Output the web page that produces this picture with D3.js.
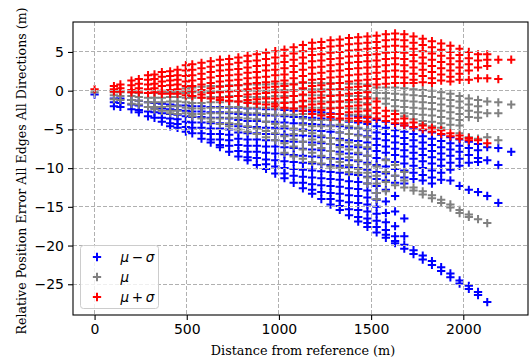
<!DOCTYPE html>
<html>
<head>
<meta charset="utf-8">
<script src="https://cdn.jsdelivr.net/npm/d3@7"></script>
<style>
body { margin: 0; background: #fff; }
svg { display: block; }
</style>
</head>
<body>
<svg id="chart" width="529" height="360"></svg>
<script>
// Distances (m) at which the errors were sampled
const distances = [0, 105, 140, 200, 240, 290, 325, 365, 410, 450,
	495, 530, 580, 630, 680, 730, 780, 830, 880, 930,
	980, 1030, 1080, 1130, 1180, 1230, 1280, 1330, 1380, 1430,
	1480, 1530, 1580, 1630, 1680, 1730, 1780, 1830, 1880, 1930,
	1980, 2030, 2080, 2130, 2190, 2260];

// mu - sigma (one list of errors per distance)
const lowerVals = [
	[-0.5],
	[-1.0, -1.5, -2.0],
	[-1.0, -1.6, -2.1],
	[-1.2, -1.8, -2.4],
	[-1.3, -1.9, -2.5, -2.8],
	[-1.5, -2.1, -2.7, -3.3],
	[-1.6, -2.2, -2.8, -3.5],
	[-1.7, -2.3, -2.9, -3.5, -4.0],
	[-1.8, -2.4, -3.0, -3.6, -4.2, -4.6],
	[-1.9, -2.5, -3.1, -3.7, -4.3, -4.8],
	[-1.9, -2.6, -3.3, -4.0, -4.7, -5.3],
	[-2.0, -2.7, -3.4, -4.1, -4.8, -5.5],
	[-2.0, -2.7, -3.4, -4.1, -4.8, -5.5, -6.2],
	[-2.1, -2.8, -3.5, -4.2, -4.9, -5.6, -6.3, -6.7],
	[-2.1, -2.8, -3.5, -4.2, -4.9, -5.6, -6.3, -7.0, -7.3],
	[-2.2, -2.9, -3.6, -4.3, -5.0, -5.7, -6.4, -7.1, -7.9],
	[-2.2, -3.0, -3.8, -4.6, -5.4, -6.2, -7.0, -7.8, -8.5],
	[-2.3, -3.1, -3.9, -4.7, -5.5, -6.3, -7.1, -7.9, -8.6, -9.0],
	[-2.3, -3.1, -3.9, -4.7, -5.5, -6.3, -7.1, -7.9, -8.7, -9.6],
	[-2.4, -3.2, -4.0, -4.8, -5.6, -6.4, -7.2, -8.0, -8.9, -9.5, -10.1],
	[-2.4, -3.2, -4.0, -4.8, -5.6, -6.4, -7.2, -8.1, -9.0, -9.8, -10.7],
	[-2.5, -3.3, -4.1, -4.9, -5.7, -6.5, -7.3, -8.2, -9.1, -10.0, -10.7, -11.3],
	[-2.6, -3.4, -4.2, -5.0, -5.8, -6.6, -7.4, -8.3, -9.2, -10.1, -11.0, -11.9],
	[-2.6, -3.4, -4.2, -5.0, -5.8, -6.6, -7.5, -8.4, -9.3, -10.2, -11.1, -11.9, -12.6],
	[-2.7, -3.5, -4.3, -5.1, -5.9, -6.7, -7.6, -8.5, -9.4, -10.3, -11.2, -12.1, -12.8, -13.3],
	[-2.8, -3.6, -4.4, -5.2, -6.0, -6.8, -7.7, -8.6, -9.5, -10.4, -11.3, -12.2, -13.1, -14.0],
	[-2.9, -3.7, -4.5, -5.3, -6.1, -6.9, -7.8, -8.7, -9.6, -10.5, -11.4, -12.3, -13.2, -14.0, -14.7],
	[-3.0, -3.8, -4.6, -5.4, -6.2, -7.0, -7.9, -8.8, -9.7, -10.6, -11.5, -12.4, -13.3, -14.2, -14.9, -15.4],
	[-3.2, -4.0, -4.8, -5.6, -6.4, -7.2, -8.1, -9.0, -9.9, -10.8, -11.7, -12.6, -13.5, -14.4, -15.3, -16.1],
	[-3.3, -4.1, -4.9, -5.7, -6.5, -7.3, -8.2, -9.1, -10.0, -10.9, -11.8, -12.7, -13.6, -14.5, -15.4, -16.3, -16.9],
	[-3.5, -4.3, -5.1, -5.9, -6.7, -7.5, -8.4, -9.3, -10.2, -11.1, -12.0, -12.9, -13.8, -14.7, -15.6, -16.5, -17.1, -17.6],
	[-3.8, -4.6, -5.4, -6.2, -7.0, -7.8, -8.7, -9.6, -10.5, -11.4, -12.3, -13.2, -14.1, -15.0, -15.9, -16.8, -17.6, -18.3],
	[-4.0, -4.8, -5.6, -6.4, -7.2, -8.0, -8.9, -9.8, -10.7, -11.6, -12.8, -14.3, -15.8, -17.0, -18.0, -18.6, -19.0],
	[-4.3, -5.1, -5.9, -6.7, -7.5, -8.3, -9.2, -10.1, -11.0, -11.9, -13.6, -15.6, -17.5, -18.8, -19.4, -19.7],
	[-4.5, -5.3, -6.1, -6.9, -7.7, -8.5, -9.4, -10.3, -11.2, -12.0, -16.5, -18.8, -19.9, -20.4],
	[-4.8, -5.6, -6.4, -7.2, -8.0, -8.8, -9.7, -10.6, -11.4, -20.6, -21.1],
	[-5.1, -5.9, -6.7, -7.5, -8.3, -9.1, -10.0, -10.9, -11.6, -21.3, -21.8],
	[-5.4, -6.2, -7.0, -7.8, -8.6, -9.4, -10.3, -11.2, -12.0, -22.0, -22.5],
	[-5.7, -6.5, -7.3, -8.1, -8.9, -9.7, -10.6, -11.5, -22.8, -23.3],
	[-6.0, -6.8, -7.6, -8.4, -9.3, -10.2, -11.6, -23.6, -24.1],
	[-6.3, -7.1, -7.9, -8.8, -9.7, -12.3, -24.5, -24.9],
	[-6.6, -7.4, -8.3, -9.3, -12.8, -25.2, -25.6],
	[-6.9, -7.7, -8.7, -9.2, -13.1, -26.0, -26.4],
	[-7.3, -9.0, -13.6, -27.3],
	[-7.4, -9.6, -14.5],
	[-7.9]
];

// mu
const meanVals = [
	[-0.2],
	[-0.2, -0.6, -1.1],
	[-0.2, -0.7, -1.2],
	[-0.2, -0.7, -1.2, -1.7],
	[-0.3, -0.8, -1.3, -1.8],
	[-0.3, -0.9, -1.5, -2.1],
	[-0.3, -0.9, -1.5, -2.1, -2.4],
	[-0.3, -0.9, -1.5, -2.1, -2.6],
	[-0.2, -0.8, -1.4, -2.0, -2.6, -2.9],
	[-0.2, -0.8, -1.4, -2.0, -2.6, -3.0],
	[0.3, -0.3, -0.9, -1.5, -2.2, -2.9],
	[0.4, -0.2, -0.9, -1.6, -2.3, -3.0, -3.3],
	[0.5, -0.2, -0.9, -1.6, -2.3, -3.0, -3.6],
	[0.6, -0.1, -0.8, -1.5, -2.2, -2.9, -3.6, -4.0],
	[0.6, -0.1, -0.8, -1.5, -2.2, -2.9, -3.6, -4.3],
	[0.7, 0.0, -0.7, -1.4, -2.1, -2.8, -3.5, -4.2, -4.6],
	[0.7, 0.0, -0.7, -1.4, -2.1, -2.8, -3.5, -4.3, -5.0],
	[0.8, 0.0, -0.8, -1.5, -2.2, -2.9, -3.6, -4.6, -5.3],
	[0.8, 0.0, -0.8, -1.5, -2.2, -2.9, -3.7, -4.9, -5.6],
	[0.8, 0.0, -0.8, -1.5, -2.2, -3.0, -4.0, -5.2, -6.0],
	[0.9, 0.1, -0.7, -1.5, -2.3, -3.1, -4.3, -5.5, -6.4],
	[0.9, 0.1, -0.7, -1.5, -2.3, -3.1, -4.6, -5.9, -6.8, -8.0],
	[0.9, 0.1, -0.7, -1.5, -2.3, -3.1, -4.9, -5.6, -6.3, -7.2, -8.5],
	[1.0, 0.2, -0.6, -1.4, -2.2, -3.0, -3.6, -4.4, -5.2, -6.6, -7.6, -8.8],
	[1.0, 0.2, -0.6, -1.4, -2.2, -3.0, -3.8, -4.6, -5.5, -6.3, -7.0, -8.0, -9.2],
	[1.0, 0.2, -0.6, -1.4, -2.2, -3.0, -3.8, -4.6, -5.8, -6.6, -7.4, -8.4, -9.4],
	[1.0, 0.2, -0.6, -1.4, -2.2, -3.0, -3.8, -4.6, -6.1, -6.9, -7.8, -8.8, -9.8],
	[1.0, 0.2, -0.6, -1.4, -2.2, -3.0, -3.8, -4.4, -5.4, -6.4, -7.3, -8.2, -9.2, -10.0],
	[0.9, 0.1, -0.7, -1.5, -2.3, -3.1, -3.9, -4.6, -5.6, -6.7, -7.6, -8.6, -9.6, -10.5],
	[0.9, 0.1, -0.7, -1.5, -2.3, -3.1, -3.9, -4.8, -5.8, -7.0, -8.0, -9.0, -10.1, -10.6],
	[0.8, 0.0, -0.8, -1.6, -2.4, -3.2, -4.0, -5.0, -6.0, -7.3, -8.4, -9.5, -10.6, -11.2, -12.0],
	[0.4, -0.3, -1.0, -9.8, -11.0, -12.0, -13.2, -14.0],
	[0.4, -0.3, -1.0, -1.7, -9.0, -10.5, -11.8, -13.0],
	[0.4, -0.4, -1.2, -2.0, -2.6, -9.6, -11.0, -12.2],
	[0.3, -0.5, -1.3, -2.1, -2.9, -3.3, -10.5, -11.6, -12.5],
	[0.2, -0.6, -1.4, -2.2, -3.0, -3.7, -12.5, -12.9],
	[0.1, -0.7, -1.5, -2.3, -3.1, -3.9, -4.3, -13.0, -13.4],
	[0.0, -0.8, -1.6, -2.4, -3.2, -4.0, -4.6, -13.5, -13.9],
	[-0.2, -1.0, -1.8, -2.6, -3.4, -4.2, -4.8, -14.1, -14.5],
	[-0.4, -1.2, -2.0, -2.8, -3.6, -4.4, -14.7, -15.1],
	[-0.7, -1.4, -2.2, -3.0, -3.8, -4.5, -5.5, -15.4, -15.8],
	[-1.0, -1.8, -2.6, -3.4, -6.0, -16.0, -16.3],
	[-1.2, -2.0, -2.8, -3.5, -6.2, -16.6],
	[-1.4, -2.9, -6.0, -17.1],
	[-1.5, -2.9, -6.4],
	[-1.8]
];

// mu + sigma
const upperVals = [
	[0.2],
	[0.6, 0.2, -0.1],
	[0.8, 0.3, -0.1],
	[1.3, 0.7, 0.1, -0.2],
	[1.5, 0.9, 0.3, -0.2],
	[2.0, 1.4, 0.8, 0.2, -0.3],
	[2.1, 1.5, 0.9, 0.3, -0.2],
	[2.4, 1.8, 1.2, 0.6, 0.0, -0.4],
	[2.5, 1.9, 1.3, 0.7, 0.1, -0.4],
	[2.7, 2.0, 1.4, 0.8, 0.2, -0.4],
	[3.3, 2.6, 1.9, 1.2, 0.6, 0.0, -0.6],
	[3.4, 2.7, 2.0, 1.3, 0.6, 0.0, -0.7],
	[3.6, 2.9, 2.2, 1.5, 0.8, 0.1, -0.5, -0.9],
	[3.8, 3.1, 2.4, 1.7, 1.0, 0.3, -0.3, -1.0],
	[4.0, 3.3, 2.6, 1.9, 1.2, 0.5, -0.2, -0.9, -1.2],
	[4.1, 3.4, 2.7, 2.0, 1.3, 0.6, -0.1, -0.8, -1.3],
	[4.3, 3.6, 2.8, 2.1, 1.4, 0.7, 0.0, -0.7, -1.4],
	[4.5, 3.8, 3.0, 2.3, 1.6, 0.9, 0.2, -0.5, -1.2, -1.6],
	[4.7, 3.9, 3.2, 2.4, 1.7, 1.0, 0.3, -0.4, -1.1, -1.7],
	[4.9, 4.1, 3.3, 2.6, 1.8, 1.1, 0.4, -0.3, -1.0, -1.8],
	[5.1, 4.3, 3.5, 2.7, 2.0, 1.2, 0.5, -0.2, -1.0, -1.7, -2.0],
	[5.3, 4.5, 3.7, 2.9, 2.1, 1.3, 0.6, -0.2, -0.9, -1.6, -2.2],
	[5.6, 4.8, 4.0, 3.2, 2.4, 1.6, 0.8, 0.0, -0.7, -1.5, -2.3],
	[5.9, 5.1, 4.3, 3.5, 2.7, 1.9, 1.1, 0.3, -0.5, -1.3, -2.0, -2.6],
	[6.2, 5.4, 4.6, 3.8, 3.0, 2.2, 1.4, 0.6, -0.2, -1.0, -1.8, -2.5, -3.0],
	[6.3, 5.5, 4.7, 3.9, 3.1, 2.3, 1.5, 0.7, -0.1, -0.9, -1.7, -2.5, -3.2],
	[6.5, 5.7, 4.9, 4.1, 3.3, 2.5, 1.7, 0.9, 0.1, -0.7, -1.5, -2.3, -3.0, -3.4],
	[6.6, 5.8, 5.0, 4.2, 3.4, 2.6, 1.8, 1.0, 0.2, -0.6, -1.4, -2.2, -3.0, -3.6],
	[6.8, 6.0, 5.2, 4.4, 3.6, 2.8, 2.0, 1.2, 0.4, -0.4, -1.2, -2.0, -2.8, -3.6],
	[6.9, 6.1, 5.3, 4.5, 3.7, 2.9, 2.1, 1.3, 0.5, -0.3, -1.1, -1.9, -2.7, -3.5, -3.9],
	[7.0, 6.2, 5.4, 4.6, 3.8, 3.0, 2.2, 1.4, 0.6, -0.2, -1.0, -1.8, -2.6, -3.4, -4.0],
	[7.1, 6.3, 5.5, 4.7, 3.9, 3.1, 2.3, 1.5, 0.8, -1.4, -2.2, -2.9, -3.6],
	[7.3, 6.5, 5.7, 4.9, 4.1, 3.3, 2.5, 1.7, 0.9, -2.6, -3.3, -3.9],
	[7.4, 6.6, 5.8, 5.0, 4.2, 3.4, 2.6, 1.8, 1.0, -3.0, -3.7, -4.2],
	[7.3, 6.5, 5.7, 4.9, 4.1, 3.3, 2.5, 1.7, 1.0, -3.6, -4.2, -4.5],
	[7.0, 6.2, 5.4, 4.6, 3.8, 3.0, 2.2, 1.4, 1.0, -4.1, -4.7],
	[6.7, 5.9, 5.1, 4.3, 3.5, 2.7, 1.9, 1.1, -4.5, -5.0],
	[6.4, 5.6, 4.8, 4.0, 3.2, 2.4, 1.6, 1.0, -4.8, -5.3],
	[6.1, 5.3, 4.5, 3.7, 2.9, 2.1, 1.3, -5.1, -5.6],
	[5.8, 5.0, 4.2, 3.4, 2.6, 1.8, 1.2, -5.5, -5.9],
	[5.4, 4.6, 3.8, 3.0, 2.2, 1.4, -5.8, -6.2],
	[5.0, 4.2, 3.4, 2.6, 1.4, -6.1, -6.4],
	[4.7, 3.9, 3.0, 1.6, -6.4],
	[4.7, 4.0, 3.2, 1.6, -6.8],
	[4.0, 1.5],
	[4.0]
];

const seriesNames = ["\u03bc\u2212\u03c3", "\u03bc", "\u03bc+\u03c3"];
const seriesColors = ["#0000ff", "#808080", "#ff0000"];
const xTicks = [0, 500, 1000, 1500, 2000];
const yTicks = [-25, -20, -15, -10, -5, 0, 5];

// Chart layout
let margin = {top: 22, right: 1, bottom: 45, left: 73},
	width = 529, height = 360,
	iwidth = width - margin.left - margin.right,
	iheight = height - margin.top - margin.bottom;

let svg = d3.select("#chart");
let g = svg.append("g")
	.attr("transform", "translate(" + margin.left + "," + margin.top + ")");

// Scales
let x = d3.scaleLinear().domain([-117, 2351]).range([0, iwidth]);
let y = d3.scaleLinear().domain([-28.97, 8.87]).range([iheight, 0]);

// Flatten the columns into points
let allSeries = [lowerVals, meanVals, upperVals];
let series = allSeries.map((vals, k) => {
	let pts = [];
	vals.forEach((col, i) => {
		col.forEach((v) => pts.push({ d: distances[i], e: v }));
	});
	return { name: seriesNames[k], color: seriesColors[k], points: pts };
});

// Plus marker path
let ms = 4.15;
let plus = (cx, cy) => "M" + (cx - ms) + "," + cy + "H" + (cx + ms) + "M" + cx + "," + (cy - ms) + "V" + (cy + ms);

// Markers
series.forEach((s) => {
	g.append("g")
		.selectAll("path")
		.data(s.points)
		.enter()
		.append("path")
		.attr("d", (p) => plus(x(p.d), y(p.e)))
		.attr("stroke", s.color)
		.attr("stroke-width", 2)
		.attr("fill", "none");
});

// Grid lines (drawn over the markers)
let grid = g.append("g");
grid.selectAll(".gx")
	.data(xTicks)
	.enter()
	.append("line")
	.attr("x1", (d) => x(d)).attr("x2", (d) => x(d))
	.attr("y1", 0).attr("y2", iheight);
grid.selectAll(".gy")
	.data(yTicks)
	.enter()
	.append("line")
	.attr("x1", 0).attr("x2", iwidth)
	.attr("y1", (d) => y(d)).attr("y2", (d) => y(d));
grid.selectAll("line")
	.attr("stroke", "#b0b0b0")
	.attr("stroke-width", 1)
	.attr("stroke-dasharray", "4,2")
	.attr("shape-rendering", "crispEdges");

// Axes
let xAxis = g.append("g")
	.attr("transform", "translate(0," + iheight + ")")
	.call(d3.axisBottom(x).tickValues(xTicks).tickFormat(d3.format("d"))
		.tickSizeOuter(0).tickSizeInner(5).tickPadding(4));
let yAxis = g.append("g")
	.call(d3.axisLeft(y).tickValues(yTicks).tickFormat(d3.format("d"))
		.tickSizeOuter(0).tickSizeInner(5).tickPadding(4));
[xAxis, yAxis].forEach((a) => {
	a.select(".domain").remove();
	a.selectAll("line").attr("stroke", "#000").attr("stroke-width", 1.1);
	a.selectAll("text")
		.style("font-family", "DejaVu Sans")
		.style("font-size", "14px")
		.attr("fill", "#000");
});

// Frame
g.append("rect")
	.attr("x", 0).attr("y", 0)
	.attr("width", iwidth).attr("height", iheight)
	.attr("fill", "none")
	.attr("stroke", "#000")
	.attr("stroke-width", 1.1);

// Axis titles
svg.append("text")
	.attr("x", 303)
	.attr("y", 355)
	.style("text-anchor", "middle")
	.style("font-family", "DejaVu Serif")
	.style("font-size", "12.8px")
	.text("Distance from reference (m)");

svg.append("text")
	.attr("transform", "translate(25.5,171) rotate(-90)")
	.style("text-anchor", "middle")
	.style("font-family", "DejaVu Serif")
	.style("font-size", "12.6px")
	.text("Relative Position Error All Edges All Directions (m)");

// Legend
let leg = svg.append("g").attr("transform", "translate(80.5,245.5)");
leg.append("rect")
	.attr("width", 78).attr("height", 63)
	.attr("rx", 3)
	.attr("fill", "#fff").attr("fill-opacity", 0.8)
	.attr("stroke", "#cccccc");
series.forEach((s, k) => {
	let ly = 11.5 + k * 20;
	leg.append("path")
		.attr("d", plus(16.5, ly))
		.attr("stroke", s.color)
		.attr("stroke-width", 2);
	let t = leg.append("text")
		.attr("x", 40).attr("y", ly + 5)
		.style("font-family", "DejaVu Sans")
		.style("font-size", "13.5px");
	if (k == 0) {
		t.append("tspan").style("font-style", "italic").text("\u03bc");
		t.append("tspan").text("\u2009\u2212\u2009");
		t.append("tspan").style("font-style", "italic").text("\u03c3");
	} else if (k == 1) {
		t.append("tspan").style("font-style", "italic").text("\u03bc");
	} else {
		t.append("tspan").style("font-style", "italic").text("\u03bc");
		t.append("tspan").text("\u2009+\u2009");
		t.append("tspan").style("font-style", "italic").text("\u03c3");
	}
});
</script>
</body>
</html>
